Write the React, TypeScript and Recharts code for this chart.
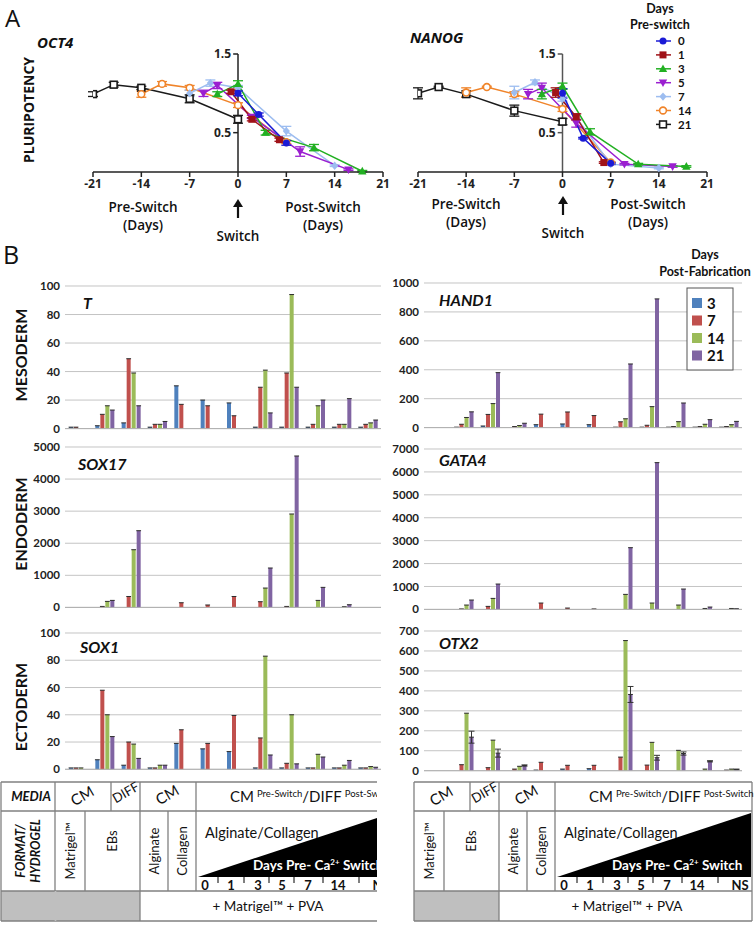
import React from 'react';
import {
  LineChart, Line, XAxis, YAxis, ReferenceLine, ErrorBar,
  BarChart, Bar, CartesianGrid,
} from 'recharts';

// ---------- Panel A: pluripotency vs days relative to Ca2+ switch ----------
// point = [day relative to switch, relative expression, error]
const switchTicks = [-21, -14, -7, 0, 7, 14, 21];
const preSwitchLabels = ['0', '1', '3', '5', '7', '14', '21'];

const oct4Pre0 = [[0, 1.0, 0.03], [3, 0.73, 0.02], [7, 0.37, 0.03]];
const oct4Pre1 = [[-1, 1.02, 0.02], [2, 0.67, 0.02], [6, 0.41, 0.02]];
const oct4Pre3 = [[-3, 0.99, 0.03], [0, 1.12, 0.04], [4, 0.5, 0.03], [11, 0.31, 0.04], [18, 0.01, 0.01]];
const oct4Pre5 = [[-5, 1.0, 0.04], [-3, 1.1, 0.04], [2, 0.7, 0.02], [9, 0.26, 0.06], [16, 0.03, 0.01]];
const oct4Pre7 = [[-7, 1.0, 0.04], [-4, 1.13, 0.04], [0, 1.07, 0.03], [7, 0.52, 0.06], [14, 0.08, 0.01]];
const oct4Pre14 = [[-14, 0.99, 0.04], [-11, 1.12, 0.03], [-7, 1.07, 0.03], [0, 0.85, 0.03], [7, 0.38, 0.02]];
const oct4Pre21 = [[-21, 0.99, 0.03], [-18, 1.11, 0.03], [-14, 1.07, 0.02], [-7, 0.93, 0.05], [0, 0.67, 0.05]];

const nanogPre0 = [[0, 1.0, 0.06], [3, 0.43, 0.01], [7, 0.11, 0.01]];
const nanogPre1 = [[-1, 1.01, 0.06], [2, 0.7, 0.04], [6, 0.12, 0.01]];
const nanogPre3 = [[-3, 0.99, 0.06], [0, 1.09, 0.04], [4, 0.51, 0.04], [11, 0.1, 0.01], [18, 0.07, 0.01]];
const nanogPre5 = [[-5, 0.99, 0.06], [-3, 1.07, 0.06], [2, 0.62, 0.05], [9, 0.1, 0.01], [16, 0.07, 0.01]];
const nanogPre7 = [[-7, 1.01, 0.08], [-4, 1.14, 0.03], [0, 0.93, 0.03], [7, 0.1, 0.01], [14, 0.05, 0.01]];
const nanogPre14 = [[-14, 1.01, 0.06], [-11, 1.08, 0.01], [-7, 0.99, 0.03], [0, 0.8, 0.03], [7, 0.12, 0.01]];
const nanogPre21 = [[-21, 1.0, 0.07], [-18, 1.08, 0.01], [-14, 0.99, 0.04], [-7, 0.78, 0.07], [0, 0.64, 0.04]];

// ---------- Panel B: germ layer markers ----------
const conditions = ['Matrigel', 'EBs CM', 'EBs DIFF', 'Alginate', 'Collagen', '0', '1', '3', '5', '7', '14', 'NS'];
const fabDays = ['3', '7', '14', '21'];

const tDay3 = [1, 2, 4, 1, 30, 20, 18, 1, 1, 1, 1, 1];
const tDay7 = [1, 10, 49, 3, 17, 16, 9, 29, 39, 3, 3, 3];
const tDay14 = [0, 16, 39, 3, 0, 0, 0, 41, 94, 16, 3, 4];
const tDay21 = [0, 13, 16, 5, 0, 0, 0, 11, 29, 20, 21, 6];
const tTicks = [0, 20, 40, 60, 80, 100];

const hand1Day3 = [2, 3, 11, 1, 20, 25, 20, 3, 3, 3, 3, 3];
const hand1Day7 = [2, 23, 91, 7, 93, 108, 83, 40, 16, 7, 7, 7];
const hand1Day14 = [0, 70, 166, 14, 0, 0, 0, 61, 145, 41, 23, 20];
const hand1Day21 = [0, 109, 380, 30, 0, 0, 0, 440, 890, 170, 55, 43];
const hand1Ticks = [0, 200, 400, 600, 800, 1000];

const sox17Day3 = [0, 0, 0, 5, 0, 0, 5, 0, 0, 0, 0, 0];
const sox17Day7 = [0, 30, 340, 5, 145, 75, 340, 177, 30, 0, 0, 0];
const sox17Day14 = [0, 187, 1798, 10, 0, 0, 0, 603, 2911, 218, 20, 5];
const sox17Day21 = [0, 218, 2391, 10, 0, 0, 0, 1227, 4719, 624, 83, 10];
const sox17Ticks = [0, 1000, 2000, 3000, 4000, 5000];

const gata4Day3 = [0, 0, 0, 0, 10, 0, 0, 0, 0, 0, 0, 0];
const gata4Day7 = [0, 20, 131, 5, 277, 58, 20, 0, 0, 0, 0, 0];
const gata4Day14 = [0, 189, 480, 10, 0, 0, 0, 655, 277, 189, 40, 40];
const gata4Day21 = [0, 408, 1106, 10, 0, 0, 0, 2693, 6405, 888, 102, 30];
const gata4Ticks = [0, 1000, 2000, 3000, 4000, 5000, 6000, 7000];

const sox1Day3 = [1, 7, 3, 1, 19, 15, 13, 1, 1, 1, 1, 1];
const sox1Day7 = [1, 58, 20, 1, 29, 19, 39.5, 23, 4.4, 1, 1, 1];
const sox1Day14 = [1, 40, 18.5, 3, 0, 0, 0, 83, 40, 11, 3, 2];
const sox1Day21 = [0, 24, 8, 3, 0, 0, 0, 10.5, 4, 9, 6.5, 1.5];
const sox1Ticks = [0, 20, 40, 60, 80, 100];

const otx2Day3 = [1, 2, 0, 0, 3, 8, 10, 0, 0, 1, 0, 0];
const otx2Day7 = [0, 30, 15, 8, 42, 27, 27, 68, 28, 0, 2, 3];
const otx2Day14 = [0, 288, 153, 22, 0, 0, 0, 652, 142, 102, 8, 8];
const otx2Day21 = [0, 168, 88, 26, 0, 0, 0, 382, 65, 86, 47, 6];
const otx2Day21Err = [0, 30, 20, 3, 0, 0, 0, 40, 12, 8, 3, 2];
const otx2Ticks = [0, 100, 200, 300, 400, 500, 600, 700];

// table labels under the bar charts
const switchDayLabels = ['0', '1', '3', '5', '7', '14', 'NS'];

// ---------- styles ----------
const lineStyles = [
  { color: '#1b1bd6', shape: 'circle' },
  { color: '#a01218', shape: 'square' },
  { color: '#22b022', shape: 'triangle' },
  { color: '#9b1fd0', shape: 'triangleDown' },
  { color: '#9dbdf0', shape: 'diamond' },
  { color: '#f0842a', shape: 'openCircle' },
  { color: '#1a1a1a', shape: 'openSquare' },
];
const barColors = ['#4f81bd', '#c0504d', '#9bbb59', '#8064a2'];
const OPEN = '"Open Sans", sans-serif';
const LATO = 'Lato, sans-serif';

const toPoints = (arr: number[][]) => arr.map(([day, value, err]) => ({ day, value, err }));

function Marker({ cx, cy, shape, color }: any) {
  switch (shape) {
    case 'circle':
      return <circle cx={cx} cy={cy} r={3.5} fill={color} />;
    case 'square':
      return <rect x={cx - 3.5} y={cy - 3.5} width={7} height={7} fill={color} />;
    case 'triangle':
      return <polygon points={`${cx},${cy - 4.4} ${cx + 4.2},${cy + 3.2} ${cx - 4.2},${cy + 3.2}`} fill={color} />;
    case 'triangleDown':
      return <polygon points={`${cx - 4.2},${cy - 3.2} ${cx + 4.2},${cy - 3.2} ${cx},${cy + 4.4}`} fill={color} />;
    case 'diamond':
      return <polygon points={`${cx},${cy - 4.2} ${cx + 3.6},${cy} ${cx},${cy + 4.2} ${cx - 3.6},${cy}`} fill={color} />;
    case 'openCircle':
      return <circle cx={cx} cy={cy} r={3.4} fill="#fff" stroke={color} strokeWidth={1.6} />;
    default:
      return <rect x={cx - 3.4} y={cy - 3.4} width={6.8} height={6.8} fill="#fff" stroke={color} strokeWidth={1.6} />;
  }
}

const dotFor = (shape: string, color: string) => (props: any) => {
  const { cx, cy, index } = props;
  if (cx == null || cy == null) return <g key={index} />;
  return <Marker key={index} cx={cx} cy={cy} shape={shape} color={color} />;
};

function PluriChart({ series, left, width, mLeft, mRight, yAxisColor }: any) {
  const tickLabel = { fill: '#222', fontSize: 12, fontWeight: 700, fontFamily: OPEN };
  return (
    <div style={{ position: 'absolute', left, top: 0, width, height: 200 }}>
      <LineChart width={width} height={200} margin={{ top: 54, right: mRight, left: mLeft, bottom: 0 }}>
        <XAxis
          type="number"
          dataKey="day"
          domain={[-21, 21]}
          ticks={switchTicks}
          interval={0}
          allowDataOverflow
          height={28}
          tickSize={5}
          axisLine={{ stroke: '#222', strokeWidth: 1.5 }}
          tickLine={{ stroke: '#222', strokeWidth: 1.5 }}
          tick={tickLabel}
        />
        <YAxis hide type="number" domain={[0, 1.5]} />
        <ReferenceLine x={0} stroke={yAxisColor} strokeWidth={1.5} />
        <ReferenceLine
          segment={[{ x: -0.7, y: 1.5 }, { x: 0, y: 1.5 }]}
          stroke={yAxisColor}
          strokeWidth={1.5}
          label={{ value: '1.5', position: 'left', offset: 2, ...tickLabel }}
        />
        <ReferenceLine
          segment={[{ x: -0.7, y: 0.5 }, { x: 0, y: 0.5 }]}
          stroke={yAxisColor}
          strokeWidth={1.5}
          label={{ value: '0.5', position: 'left', offset: 2, ...tickLabel }}
        />
        {series
          .map((arr: number[][], i: number) => ({ arr, i }))
          .reverse()
          .map(({ arr, i }: any) => (
            <Line
              key={preSwitchLabels[i]}
              data={toPoints(arr)}
              dataKey="value"
              type="linear"
              stroke={lineStyles[i].color}
              strokeWidth={1.5}
              dot={dotFor(lineStyles[i].shape, lineStyles[i].color)}
              activeDot={false}
              isAnimationActive={false}
            >
              <ErrorBar dataKey="err" width={5} stroke={lineStyles[i].color} strokeWidth={1.3} direction="y" />
            </Line>
          ))}
      </LineChart>
    </div>
  );
}

const capShape = (props: any) => {
  const { x, y, width, height, fill } = props;
  if (!(height > 0.4)) return <g />;
  return (
    <g>
      <rect x={x} y={y} width={width} height={height} fill={fill} />
      <line x1={x - 0.4} x2={x + width + 0.4} y1={y} y2={y} stroke="#2b2b2b" strokeWidth={1} />
    </g>
  );
};

function GenePanel({ series, err, ticks, plotTop, plotBottom, plotLeft, plotRight }: any) {
  const yw = 40;
  const top = 8;
  const bottom = 8;
  const rows = conditions.map((cat, i) => ({
    cat,
    d3: series[0][i],
    d7: series[1][i],
    d14: series[2][i],
    d21: series[3][i],
    e21: err ? err[i] : 0,
  }));
  const w = plotRight - plotLeft + yw;
  const h = plotBottom - plotTop + top + 1 + bottom;
  return (
    <div style={{ position: 'absolute', left: plotLeft - yw, top: plotTop - top, width: w, height: h }}>
      <BarChart width={w} height={h} data={rows} margin={{ top, right: 0, left: 0, bottom }} barGap={1}>
        <CartesianGrid vertical={false} stroke="#c4c4c4" strokeWidth={1} />
        <XAxis dataKey="cat" height={1} tick={false} tickLine={false} axisLine={{ stroke: '#b0b0b0' }} />
        <YAxis
          width={yw}
          domain={[0, ticks[ticks.length - 1]]}
          ticks={ticks}
          interval={0}
          axisLine={false}
          tickLine={false}
          tickSize={0}
          tickMargin={5}
          tick={{ fill: '#222', fontSize: 11.5, fontWeight: 700, fontFamily: LATO }}
        />
        {['d3', 'd7', 'd14', 'd21'].map((k, j) => (
          <Bar key={k} dataKey={k} fill={barColors[j]} barSize={4} shape={capShape} isAnimationActive={false}>
            {j === 3 && err ? <ErrorBar dataKey="e21" width={3} stroke="#333" strokeWidth={1} direction="y" /> : null}
          </Bar>
        ))}
      </BarChart>
    </div>
  );
}

// table drawn in right-table coordinates; ox shifts it for the left copy
const gridC = '#808080';
function TableBody({ ox }: { ox: number }) {
  const L = (x1: number, y1: number, x2: number, y2: number) => (
    <line x1={x1} y1={y1} x2={x2} y2={y2} stroke={gridC} strokeWidth={1.3} />
  );
  const numX = [564, 590, 617, 641, 667, 697, 740];
  const tickX = [577, 603, 628, 653, 682, 718];
  const rot = (x: number, y: number, a: number) => `rotate(${a} ${x} ${y})`;
  return (
    <g transform={`translate(${ox},0)`}>
      <rect x={414} y={891} width={85} height={30} fill="#bfbfbf" />
      {L(414, 782, 752, 782)}
      {L(414, 811, 752, 811)}
      {L(414, 891, 752, 891)}
      {L(414, 921, 752, 921)}
      {L(414, 782, 414, 921)}
      {L(752, 782, 752, 921)}
      {L(470, 782, 470, 811)}
      {L(499, 782, 499, 811)}
      {L(555, 782, 555, 891)}
      {L(444, 811, 444, 891)}
      {L(499, 811, 499, 921)}
      {L(527, 811, 527, 891)}
      <polygon points="557,877 751,877 751,813" fill="#000" />
      {tickX.map((x) => <line key={x} x1={x} x2={x} y1={877} y2={883} stroke="#000" strokeWidth={1} />)}
      {switchDayLabels.map((t, i) => (
        <text key={t} x={numX[i]} y={889.5} textAnchor="middle" fontSize={13} fontWeight={700} fill="#111">{t}</text>
      ))}
      <text x={442} y={801} fontSize={15} textAnchor="middle" transform={rot(442, 797, -30)} fill="#111">CM</text>
      <text x={485} y={797} fontSize={13} textAnchor="middle" transform={rot(485, 793, -30)} fill="#111">DIFF</text>
      <text x={527} y={800} fontSize={15} textAnchor="middle" transform={rot(527, 796, -30)} fill="#111">CM</text>
      <text x={589} y={802} fontSize={15} fill="#111">
        CM<tspan fontSize={9.5} dx={3} dy={-5}>Pre-Switch</tspan>
        <tspan fontSize={15} dy={5}>/DIFF</tspan>
        <tspan fontSize={9.5} dx={3} dy={-5}>Post-Switch</tspan>
      </text>
      <text x={434} y={851} fontSize={13} textAnchor="middle" transform={rot(434, 851, -90)} fill="#111">Matrigel™</text>
      <text x={476} y={841} fontSize={13} textAnchor="middle" transform={rot(476, 841, -90)} fill="#111">EBs</text>
      <text x={518} y={851} fontSize={13} textAnchor="middle" transform={rot(518, 851, -90)} fill="#111">Alginate</text>
      <text x={546} y={851} fontSize={13} textAnchor="middle" transform={rot(546, 851, -90)} fill="#111">Collagen</text>
      <text x={564} y={838} fontSize={14.5} fill="#111">Alginate/Collagen</text>
      <text x={612} y={870} fontSize={13.5} fontWeight={700} fill="#fff">
        Days Pre- Ca<tspan fontSize={8} dy={-5}>2+</tspan>
        <tspan fontSize={13.5} dy={5}> Switch</tspan>
      </text>
      <text x={627} y={911} fontSize={13.5} textAnchor="middle" fill="#111">+ Matrigel™ + PVA</text>
    </g>
  );
}

export default function App() {
  const oct4 = [oct4Pre0, oct4Pre1, oct4Pre3, oct4Pre5, oct4Pre7, oct4Pre14, oct4Pre21];
  const nanog = [nanogPre0, nanogPre1, nanogPre3, nanogPre5, nanogPre7, nanogPre14, nanogPre21];
  const txt = { fill: '#111' };
  return (
    <div style={{ position: 'absolute', left: 0, top: 0, width: 754, height: 925, background: '#fff', fontFamily: LATO, overflow: 'hidden' }}>
      <PluriChart series={oct4} left={0} width={400} mLeft={93} mRight={17} yAxisColor="#222" />
      <PluriChart series={nanog} left={377} width={377} mLeft={41} mRight={47} yAxisColor="#555" />

      <GenePanel series={[tDay3, tDay7, tDay14, tDay21]} ticks={tTicks} plotTop={285.7} plotBottom={428.3} plotLeft={65} plotRight={381} />
      <GenePanel series={[sox17Day3, sox17Day7, sox17Day14, sox17Day21]} ticks={sox17Ticks} plotTop={447.3} plotBottom={607.7} plotLeft={65} plotRight={381} />
      <GenePanel series={[sox1Day3, sox1Day7, sox1Day14, sox1Day21]} ticks={sox1Ticks} plotTop={632.7} plotBottom={769} plotLeft={65} plotRight={381} />
      <GenePanel series={[hand1Day3, hand1Day7, hand1Day14, hand1Day21]} ticks={hand1Ticks} plotTop={282.7} plotBottom={427.3} plotLeft={424} plotRight={742} />
      <GenePanel series={[gata4Day3, gata4Day7, gata4Day14, gata4Day21]} ticks={gata4Ticks} plotTop={449.3} plotBottom={609.7} plotLeft={424} plotRight={742} />
      <GenePanel series={[otx2Day3, otx2Day7, otx2Day14, otx2Day21]} err={otx2Day21Err} ticks={otx2Ticks} plotTop={631.3} plotBottom={771} plotLeft={424} plotRight={742} />

      <svg width={754} height={925} style={{ position: 'absolute', left: 0, top: 0, pointerEvents: 'none' }}>
        {/* panel A labels */}
        <text x={5} y={27} fontSize={24} fontFamily={OPEN} {...txt}>A</text>
        <text x={3} y={264} fontSize={25} fontFamily={OPEN} {...txt}>B</text>
        <text x={34} y={110} fontSize={14} fontWeight={700} fontFamily={OPEN} textAnchor="middle" transform="rotate(-90 34 110)" {...txt}>PLURIPOTENCY</text>
        <text x={37} y={48} fontSize={15} fontWeight={700} fontStyle="italic" fontFamily={OPEN} {...txt}>OCT4</text>
        <text x={410} y={43} fontSize={15} fontWeight={700} fontStyle="italic" fontFamily={OPEN} {...txt}>NANOG</text>
        {[[143, 323, 238, 0], [466, 648, 563, -3]].map(([pre, post, sw, dy]) => (
          <g key={pre} fontFamily={OPEN} fontSize={13.5} fontWeight={600} {...txt}>
            <text x={pre} y={212 + dy} textAnchor="middle">Pre-Switch</text>
            <text x={pre} y={230 + dy} textAnchor="middle">(Days)</text>
            <text x={post} y={212 + dy} textAnchor="middle">Post-Switch</text>
            <text x={post} y={230 + dy} textAnchor="middle">(Days)</text>
            <line x1={sw} x2={sw} y1={203 + dy} y2={218 + dy} stroke="#111" strokeWidth={2.2} />
            <polygon points={`${sw},${199 + dy} ${sw + 5},${207 + dy} ${sw - 5},${207 + dy}`} fill="#111" />
            <text x={sw} y={241 + dy} textAnchor="middle">Switch</text>
          </g>
        ))}
        {/* line legend */}
        <text x={660} y={13} fontSize={12.5} fontWeight={700} fontFamily={LATO} textAnchor="middle" {...txt}>Days</text>
        <text x={660} y={29} fontSize={12.5} fontWeight={700} fontFamily={LATO} textAnchor="middle" {...txt}>Pre-switch</text>
        {preSwitchLabels.map((lab, i) => {
          const y = 41 + i * 13.9;
          return (
            <g key={lab}>
              <line x1={656} x2={671} y1={y} y2={y} stroke={lineStyles[i].color} strokeWidth={1.5} />
              <Marker cx={663} cy={y} shape={lineStyles[i].shape} color={lineStyles[i].color} />
              <text x={678} y={y + 4.2} fontSize={11.5} fontWeight={700} fontFamily={LATO} {...txt}>{lab}</text>
            </g>
          );
        })}

        {/* panel B labels */}
        {[
          ['T', 83, 309], ['SOX17', 78, 470], ['SOX1', 80, 653],
          ['HAND1', 439, 306], ['GATA4', 439, 466], ['OTX2', 439, 649],
        ].map(([g, x, y]: any) => (
          <text key={g} x={x} y={y} fontSize={16} fontWeight={700} fontStyle="italic" {...txt}>{g}</text>
        ))}
        {[['MESODERM', 355], ['ENDODERM', 524], ['ECTODERM', 707]].map(([lab, y]: any) => (
          <text key={lab} x={27} y={y} fontSize={16} fontWeight={700} textAnchor="middle" transform={`rotate(-90 27 ${y})`} {...txt}>{lab}</text>
        ))}
        <text x={705} y={259} fontSize={12.5} fontWeight={700} textAnchor="middle" {...txt}>Days</text>
        <text x={705} y={276} fontSize={12.5} fontWeight={700} textAnchor="middle" {...txt}>Post-Fabrication</text>
        <rect x={687} y={288} width={46} height={82} fill="#fff" stroke="#555" strokeWidth={1} />
        {fabDays.map((d, i) => {
          const y = 303 + i * 17.5;
          return (
            <g key={d}>
              <rect x={692} y={y - 5} width={10} height={10} fill={barColors[i]} />
              <text x={707} y={y + 5.5} fontSize={15} fontWeight={700} {...txt}>{d}</text>
            </g>
          );
        })}

        {/* tables */}
        <defs>
          <clipPath id="leftClip"><rect x={0} y={770} width={377} height={160} /></clipPath>
        </defs>
        <g clipPath="url(#leftClip)">
          <TableBody ox={-359} />
          <rect x={1} y={891} width={55} height={30} fill="#bfbfbf" />
          <line x1={1} x2={55} y1={782} y2={782} stroke={gridC} strokeWidth={1.3} />
          <line x1={1} x2={55} y1={811} y2={811} stroke={gridC} strokeWidth={1.3} />
          <line x1={1} x2={55} y1={891} y2={891} stroke={gridC} strokeWidth={1.3} />
          <line x1={1} x2={55} y1={921} y2={921} stroke={gridC} strokeWidth={1.3} />
          <line x1={1} x2={1} y1={782} y2={921} stroke={gridC} strokeWidth={1.3} />
          <rect x={54} y={891.7} width={3} height={28.6} fill="#bfbfbf" />
          <text x={31} y={801} fontSize={13} fontWeight={700} fontStyle="italic" textAnchor="middle" {...txt}>MEDIA</text>
          <text x={25} y={851} fontSize={12.5} fontWeight={700} fontStyle="italic" textAnchor="middle" transform="rotate(-90 25 851)" {...txt}>FORMAT/</text>
          <text x={40} y={851} fontSize={12.5} fontWeight={700} fontStyle="italic" textAnchor="middle" transform="rotate(-90 40 851)" {...txt}>HYDROGEL</text>
        </g>
        <TableBody ox={0} />
      </svg>
    </div>
  );
}
